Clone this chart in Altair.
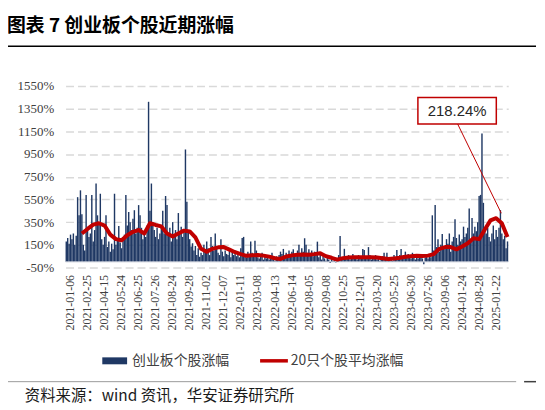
import altair as alt
import pandas as pd

# ---- data ----
label_dates = ["2021-01-06", "2021-02-25", "2021-04-15", "2021-05-24", "2021-06-25",
               "2021-07-26", "2021-08-24", "2021-09-28", "2021-11-02", "2021-12-07",
               "2022-01-11", "2022-03-08", "2022-04-13", "2022-06-14", "2022-08-05",
               "2022-09-08", "2022-10-25", "2022-12-01", "2023-03-20", "2023-05-25",
               "2023-06-30", "2023-07-26", "2023-09-06", "2024-01-24", "2024-08-28",
               "2025-01-22"]
bars_per_label = 12

# 创业板个股涨幅 (%), one value per stock, in order
stock_gain = [
    180, 210, 160, 240, 200, 250, 150, 230, 570, 410, 630, 420,
    150, 100, 590, 300, 220, 250, 590, 180, 280, 690, 410, 350,
    600, 200, 150, 220, 410, 130, 180, 90, 160, 110, 600, 150,
    200, 316, 170, 120, 220, 240, 590, 320, 440, 350, 280, 380,
    455, 250, 300, 500, 410, 300, 200, 260, 220, 320, 1410, 450,
    690, 350, 280, 220, 300, 200, 250, 300, 450, 250, 580, 500,
    250, 300, 180, 350, 220, 280, 200, 430, 250, 310, 220, 260,
    990, 530, 280, 200, 135, 165, 100, 140, 60, 120, 45, 80,
    60, 150, 90, 180, 120, 60, 220, 140, 100, 250, 130, 80,
    60, 200, 90, 50, 100, 70, 60, 100, 40, 90, 60, 100,
    50, 80, 40, 120, 210, 220, 60, 40, 90, 50, 180, 80,
    60, 187, 100, 40, 30, 60, 80, 20, 50, 30, 60, 20,
    40, 80, 30, 10, 50, 30, 60, 90, 70, 114, 50, 80,
    60, 100, 50, 90, 110, 60, 50, 100, 150, 70, 120, 90,
    208, 150, 80, 110, 60, 100, 50, 90, 60, 178, 40, 60,
    20, 50, 30, 10, 40, 20, -10, 30, 10, 20, -5, 30,
    60, 228, 40, 20, 115, 50, 30, 60, 20, 40, 70, 30,
    50, 20, 60, 30, 40, 114, 105, 50, 30, 130, 60, 20,
    40, 30, 60, 20, 40, 10, 30, 50, 80, 20, 80, 40,
    20, 40, 10, 60, 30, 105, 40, 60, 114, 30, 50, 90,
    40, 70, 60, 30, 80, 40, 20, 50, 30, 40, 60, 30,
    -20, 40, 50, 30, 60, 40, 410, 100, 500, 130, 200, 90,
    150, 245, 140, 120, 200, 160, 250, 90, 180, 220, 375, 210,
    150, 240, 180, 200, 310, 220, 250, 300, 470, 200, 386, 250,
    310, 270, 350, 580, 590, 1130, 520, 290, 250, 300, 220, 180,
    250, 320, 200, 280, 220, 300, 456, 250, 200, 230, 120, 180,
]

# 20只个股平均涨幅 (%), read every 4th stock starting at stock 11
ma_start, ma_step = 11, 4
ma20 = [250, 290, 328, 340, 320, 240, 200, 190, 235, 265,
        280, 250, 340, 325, 312, 250, 224, 250, 275, 268,
        215, 115, 88, 115, 128, 130, 108, 85, 68, 53,
        58, 60, 55, 46, 32, 26, 47, 57, 63, 64,
        62, 68, 76, 50, 36, 20, 33, 38, 40, 40,
        41, 40, 38, 32, 25, 30, 36, 45, 50, 53,
        52, 55, 68, 115, 130, 130, 110, 136, 164, 208,
        200, 285, 365, 385, 340, 218.24]

y_ticks = [-50, 150, 350, 550, 750, 950, 1150, 1350, 1550]

# ---- tables ----
keys = []
for i in range(len(stock_gain)):
    if i % bars_per_label == 0 and i // bars_per_label < len(label_dates):
        keys.append(label_dates[i // bars_per_label])
    else:
        keys.append(f"s{i}")

bars_df = pd.DataFrame({"k": keys, "v": stock_gain})
ma_df = pd.DataFrame({"k": [keys[ma_start + j * ma_step] for j in range(len(ma20))],
                      "v": ma20})

NAVY = "#1F3864"
RED = "#C00000"
CJK = "Noto Sans CJK SC"

x_enc = alt.X("k:N", title=None,
              scale=alt.Scale(domain=keys, paddingInner=0, paddingOuter=0),
              axis=alt.Axis(values=label_dates, labelAngle=270, labelFont="Liberation Serif",
                            labelFontSize=12, labelColor="#404040", ticks=False, domain=False,
                            grid=False, labelPadding=7, labelOffset=4, labelOverlap=False))
y_enc = alt.Y("v:Q", title=None,
              scale=alt.Scale(domain=[-50, 1550], nice=False, zero=False),
              axis=alt.Axis(values=y_ticks, labelExpr="datum.value + '%'", grid=True,
                            gridDash=[8, 4], gridColor="#D9D9D9", gridWidth=1.5,
                            domain=False, ticks=False, labelFont="Liberation Serif",
                            labelFontSize=13, labelColor="#404040", labelPadding=12,
                            labelOverlap=False, labelBound=False, labelFlush=False))

bars = alt.Chart(bars_df).mark_bar(color=NAVY).encode(x=x_enc, y=y_enc, y2=alt.datum(0))

zero_df = pd.DataFrame({"v": [0]})
zero_rule = alt.Chart(zero_df).mark_rule(color="#C9CED8", strokeWidth=1).encode(
    y=y_enc, x=alt.value(0), x2=alt.value(446))

line = alt.Chart(ma_df).mark_line(color=RED, strokeWidth=4, strokeJoin="round").encode(
    x=x_enc, y=y_enc)

one = pd.DataFrame({"a": [0]})

def text(t, x, y, size, color="#262626", font=CJK, weight="normal", align="left"):
    return alt.Chart(one).mark_text(text=t, fontSize=size, font=font, color=color,
                                    fontWeight=weight, align=align, baseline="middle").encode(
        x=alt.value(x), y=alt.value(y))

def hline(x1, x2, y, color, width):
    return alt.Chart(one).mark_rule(color=color, strokeWidth=width).encode(
        x=alt.value(x1), x2=alt.value(x2), y=alt.value(y))

title = text("图表 7 创业板个股近期涨幅", -59, -60, 19, color="#000000", weight="bold")
title_rule = hline(-61, 474, -40, "#000000", 1.5)

leg_rect = alt.Chart(one).mark_rect(color=NAVY).encode(
    x=alt.value(37), x2=alt.value(62), y=alt.value(273.5), y2=alt.value(280.5))
leg_t1 = text("创业板个股涨幅", 67, 277, 14, color="#404040")
leg_line = hline(196, 224, 277, RED, 3.5)
leg_t2 = text("20只个股平均涨幅", 227, 277, 14, color="#404040")

src_rule = hline(-61, 454, 298, "#9A9A9A", 1)
src_rule2 = hline(462, 474, 298, "#404040", 1.5)
source = text("资料来源：wind 资讯，华安证券研究所", -41, 312, 15.5, color="#1A1A1A")

box = alt.Chart(one).mark_rect(fill="white", stroke=RED, strokeWidth=1.5).encode(
    x=alt.value(355), x2=alt.value(434), y=alt.value(11.7), y2=alt.value(38.3))
box_text = text(f"{ma20[-1]:.2f}%", 394.5, 25, 15, color="#262626",
                font="Liberation Sans", align="center")
leader = alt.Chart(one).mark_rule(color=RED, strokeWidth=1).encode(
    x=alt.value(395), x2=alt.value(439), y=alt.value(38.3), y2=alt.value(128.3))

chart = alt.layer(
    bars, zero_rule, line, leader, box, box_text,
    title, title_rule, leg_rect, leg_t1, leg_line, leg_t2,
    src_rule, src_rule2, source,
).properties(
    width=446, height=183,
    autosize=alt.AutoSizeParams(type="none"),
    padding={"left": 58, "top": 77, "right": 29, "bottom": 136},
).configure_view(strokeWidth=0)

chart.save("out.html", embed_options={"renderer": "svg", "actions": False})
